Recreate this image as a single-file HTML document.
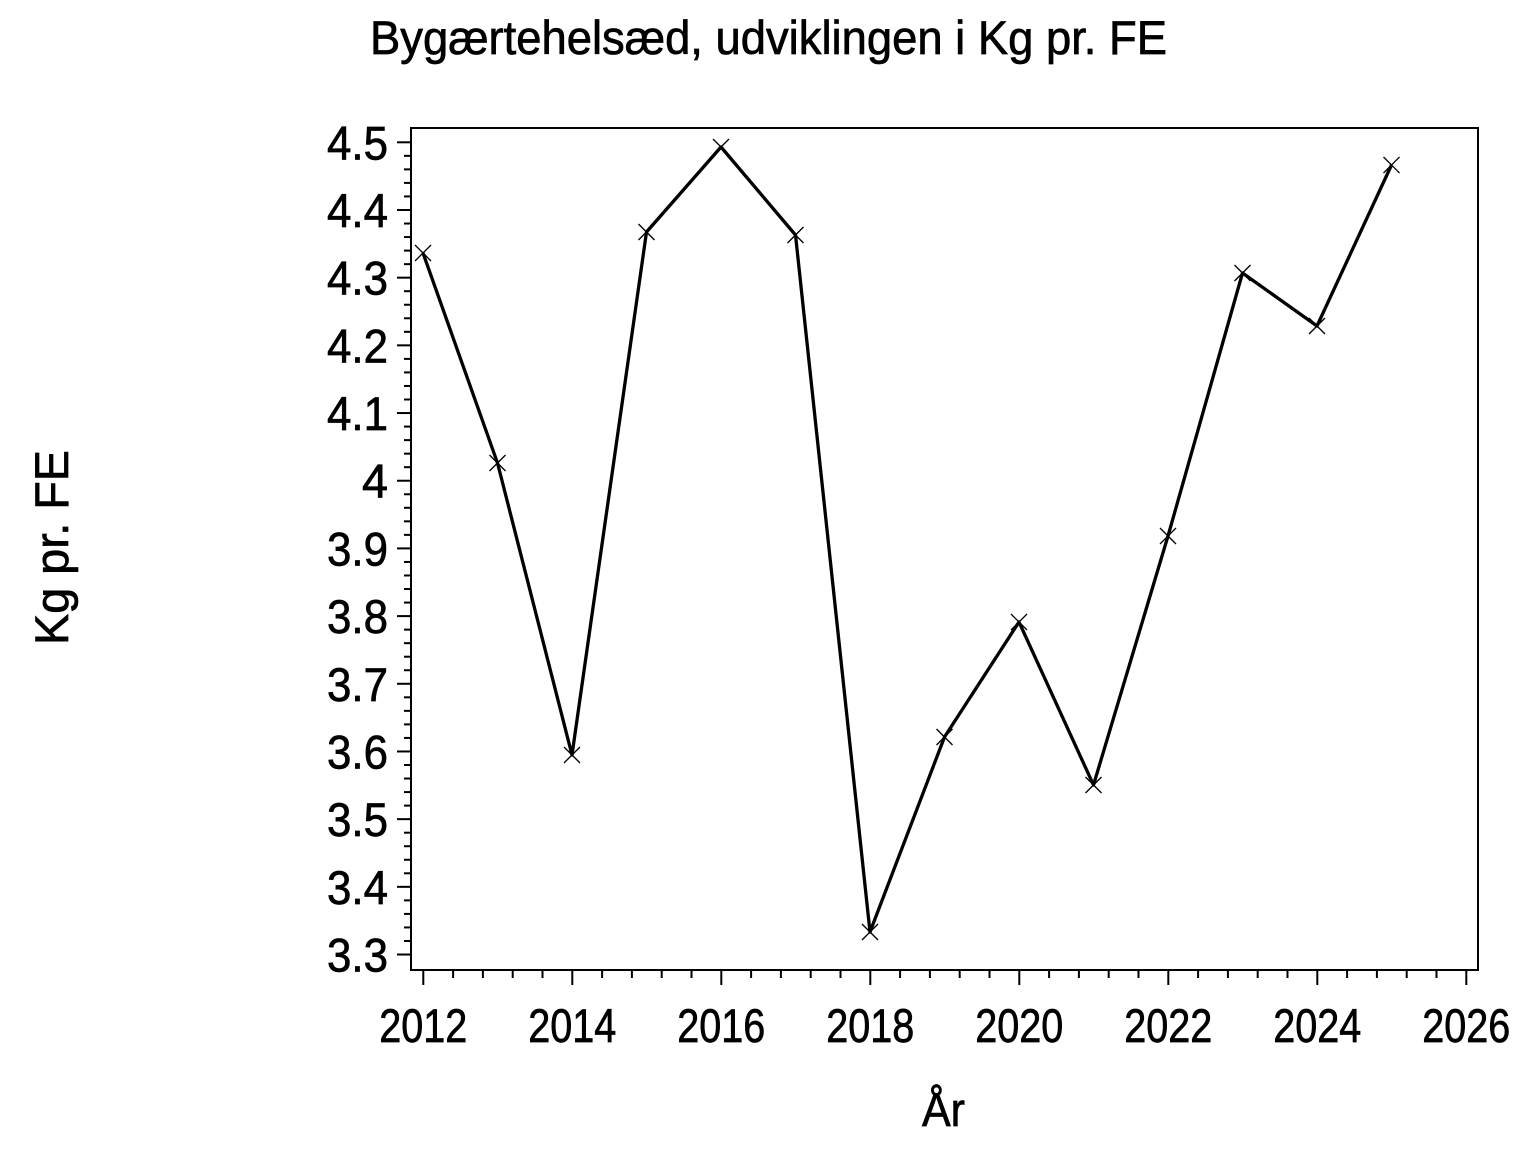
<!DOCTYPE html>
<html><head><meta charset="utf-8"><style>
html,body{margin:0;padding:0;background:#fff;}
svg{display:block;font-family:"Liberation Sans",Arial,sans-serif;}
</style></head><body>
<svg id="s" width="1536" height="1152" viewBox="0 0 1536 1152" xmlns="http://www.w3.org/2000/svg">
<rect width="1536" height="1152" fill="#fff"/>
<g stroke="#000" stroke-width="0.7">
<text x="370" y="54" font-size="47" textLength="797" lengthAdjust="spacingAndGlyphs">Bygærtehelsæd, udviklingen i Kg pr. FE</text>
<text x="922" y="1126" font-size="47" textLength="43" lengthAdjust="spacingAndGlyphs">År</text>
<text transform="translate(68,645) rotate(-90)" font-size="47" textLength="195" lengthAdjust="spacingAndGlyphs">Kg pr. FE</text>
<g id="labels" font-size="47"></g>
</g>
<rect x="411" y="128" width="1067" height="842" fill="none" stroke="#000" stroke-width="2"/>
<g id="ticks" stroke="#000" stroke-width="2"></g>
<polyline fill="none" stroke="#000" stroke-width="3.3" stroke-linejoin="round" points="423,253 497.5,463 572,755 646.5,232 721,147 795.5,235 870,932 944.5,737 1019,622 1093.5,785 1168,536 1242.5,273 1317,326 1391.5,165"/>
<g id="marks" stroke="#000" stroke-width="1.3"></g>
</svg>
<script>
var NS="http://www.w3.org/2000/svg";
function el(p,t,a,txt){var e=document.createElementNS(NS,t);for(var k in a)e.setAttribute(k,a[k]);if(txt)e.textContent=txt;document.getElementById(p).appendChild(e);}
for(var i=0;i<=60;i++){var y=142.3+i*13.537;var maj=i%5==0;el("ticks","line",{x1:maj?397:404,x2:411,y1:y,y2:y});
 if(maj){var v=(4.5-i*0.02);var s=(Math.round(v*10)/10).toString();el("labels","text",{x:388,y:y+17,"text-anchor":"end",textLength:(s.length==1?26:61),lengthAdjust:"spacingAndGlyphs"},s);}}
for(var j=0;j<=35;j++){var x=423.3+j*29.8;var maj=j%5==0;el("ticks","line",{x1:x,x2:x,y1:970,y2:maj?985:978});
 if(maj){el("labels","text",{x:x-44,y:1042,textLength:88,lengthAdjust:"spacingAndGlyphs"},String(2012+j*0.4|0));}}
var pts=[[423,253],[497.5,463],[572,755],[646.5,232],[721,147],[795.5,235],[870,932],[944.5,737],[1019,622],[1093.5,785],[1168,536],[1242.5,273],[1317,326],[1391.5,165]];
pts.forEach(function(p){var d=8;el("marks","line",{x1:p[0]-d,y1:p[1]-d,x2:p[0]+d,y2:p[1]+d});el("marks","line",{x1:p[0]-d,y1:p[1]+d,x2:p[0]+d,y2:p[1]-d});});
</script>
</body></html>
